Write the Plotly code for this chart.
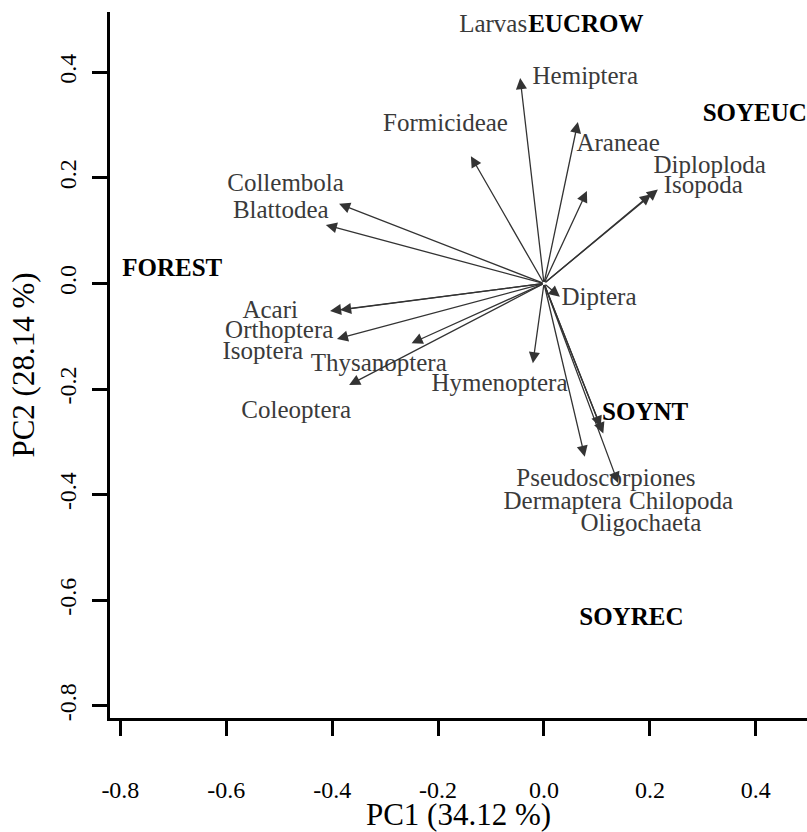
import plotly.graph_objects as go

# ---- data ----
species = ["Larvas", "Hemiptera", "Formicideae", "Araneae", "Diploploda", "Isopoda",
           "Collembola", "Blattodea", "Acari", "Orthoptera", "Isoptera", "Thysanoptera",
           "Coleoptera", "Hymenoptera", "Diptera", "Pseudoscorpiones", "Dermaptera",
           "Chilopoda", "Oligochaeta"]
arrow_x = [0.081, -0.045, -0.138, 0.064, 0.215, 0.202,
           -0.387, -0.412, -0.404, -0.391, -0.385, -0.250,
           -0.368, -0.021, 0.030, 0.112, 0.077,
           0.140, 0.107]
arrow_y = [0.175, 0.389, 0.241, 0.306, 0.178, 0.169,
           0.151, 0.111, -0.052, -0.105, -0.050, -0.113,
           -0.192, -0.151, -0.025, -0.284, -0.328,
           -0.378, -0.272]
label_x = [-0.096, 0.078, -0.186, 0.140, 0.313, 0.301,
           -0.488, -0.497, -0.517, -0.500, -0.531, -0.312,
           -0.468, -0.084, 0.104, 0.117, 0.035,
           0.259, 0.183]
label_y = [0.489, 0.390, 0.301, 0.263, 0.221, 0.183,
           0.187, 0.136, -0.053, -0.091, -0.132, -0.154,
           -0.243, -0.192, -0.029, -0.372, -0.415,
           -0.415, -0.457]

sites = ["EUCROW", "SOYEUC", "FOREST", "SOYNT", "SOYREC"]
site_x = [0.079, 0.398, -0.702, 0.191, 0.165]
site_y = [0.489, 0.320, 0.026, -0.247, -0.634]

tick_vals = [-0.8, -0.6, -0.4, -0.2, 0.0, 0.2, 0.4]
tick_text = ["-0.8", "-0.6", "-0.4", "-0.2", "0.0", "0.2", "0.4"]

x_title = "PC1 (34.12 %)"
y_title = "PC2 (28.14 %)"

FONT = "Liberation Serif, Times New Roman, Tinos, Times, serif"
ARROW_COLOR = "#333333"

fig = go.Figure()

fig.add_trace(go.Scatter(
    x=label_x, y=label_y, mode="text", text=species,
    textposition="middle center",
    textfont=dict(family=FONT, size=25, color="#3a3a3a"),
    hoverinfo="skip", showlegend=False, cliponaxis=False,
))
fig.add_trace(go.Scatter(
    x=site_x, y=site_y, mode="text", text=["<b>%s</b>" % s for s in sites],
    textposition="middle center",
    textfont=dict(family=FONT, size=25, color="#000000"),
    hoverinfo="skip", showlegend=False, cliponaxis=True,
))

for xe, ye in zip(arrow_x, arrow_y):
    fig.add_annotation(
        x=xe, y=ye, ax=0, ay=0, xref="x", yref="y", axref="x", ayref="y",
        text="", showarrow=True, arrowhead=2, arrowsize=1.7, arrowwidth=1.3,
        arrowcolor=ARROW_COLOR, standoff=0, startstandoff=0,
    )

axis_common = dict(
    showline=True, linecolor="black", linewidth=3,
    ticks="outside", ticklen=15, tickwidth=3, tickcolor="black",
    showgrid=False, zeroline=False, automargin=False,
    tickfont=dict(family=FONT, size=24, color="black"),
    tickvals=tick_vals, ticktext=tick_text,
)

fig.update_layout(
    width=807, height=832,
    margin=dict(l=110, r=0, t=12, b=114),
    paper_bgcolor="white", plot_bgcolor="white",
    xaxis=dict(range=[-0.8196, 0.4967], ticklabelstandoff=33,
               title=dict(text=x_title, font=dict(family=FONT, size=31, color="black"),
                          standoff=23),
               **axis_common),
    yaxis=dict(range=[-0.8229, 0.5142], tickangle=-90, ticklabelstandoff=6,
               title=dict(text=y_title, font=dict(family=FONT, size=31, color="black"),
                          standoff=12),
               **axis_common),
)

fig.write_html("out.html")
